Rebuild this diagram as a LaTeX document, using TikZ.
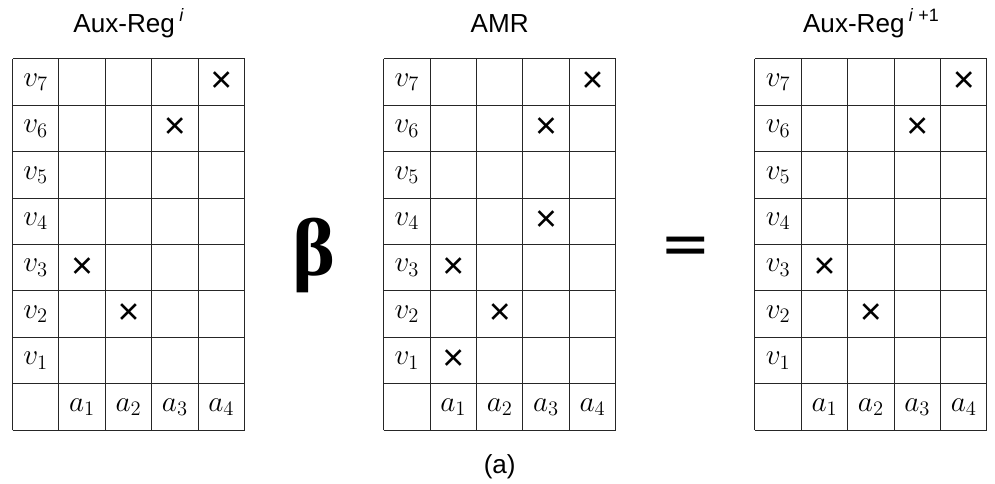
\RequirePackage{fix-cm}
\documentclass[tikz,border=0pt]{standalone}
\usepackage{amsmath,bm}
\usepackage{fontspec}
\setmainfont{Liberation Sans}
\newfontfamily\serifgr{Liberation Serif}
\newfontfamily\symfont{DejaVu Sans}
\usetikzlibrary{positioning}
\newcommand{\supi}[1]{\,\raisebox{0.42em}{\fontsize{11}{11}\selectfont#1}}

\begin{document}
\begin{tikzpicture}[
  cell/.style={minimum size=1cm, inner sep=0pt, font=\fontsize{18}{18}\selectfont},
  hit/.style={inner sep=0pt, font=\fontsize{23}{23}\selectfont},
  title/.style={anchor=base, font=\fontsize{16}{16}\selectfont},
  big/.style={anchor=base, font=\fontsize{#1}{#1}\selectfont},
  gridline/.style={line width=0.6pt, black!85}]
  \useasboundingbox (0,0) rectangle (21.444,-10.431);
  % the three tables
  \foreach \g/\x in {l/0.27, m/8.27, r/16.27} {
    \begin{scope}[shift={(\x,-9.27)}]
      \draw[gridline] (0,0) grid (5,8);
      \foreach \k in {1,...,7}
        \node[cell] (\g-v\k) at (0.5,\k+0.5) {$v_{\k}$};
      \foreach \k in {1,...,4}
        \node[cell] (\g-a\k) at (\k+0.5,0.5) {$a_{\k}$};
    \end{scope}
  }
  % crosses: table/column/row
  \foreach \g/\c/\r in {l/4/7, l/3/6, l/1/3, l/2/2,
                        m/4/7, m/3/6, m/3/4, m/1/3, m/2/2, m/1/1,
                        r/4/7, r/3/6, r/1/3, r/2/2}
    \node[hit] (\g-x\c\r) at (\g-a\c |- \g-v\r) {×};
  \node[title] (t-l) at (2.77,-0.71) {Aux-Reg\supi{\textit{i}}};
  \node[title] (t-m) at (10.77,-0.71) {AMR};
  \node[title] (t-r) at (18.77,-0.71) {Aux-Reg\supi{\textit{i}\;+1}};
  \node[big=50] (beta) at (6.77,-5.93) {\serifgr\bfseries β};
  \node[big=37] (eq) at (14.77,-5.71) {\symfont =};
  \node[title] (cap) at (10.77,-10.21) {(a)};
\end{tikzpicture}
\end{document}
